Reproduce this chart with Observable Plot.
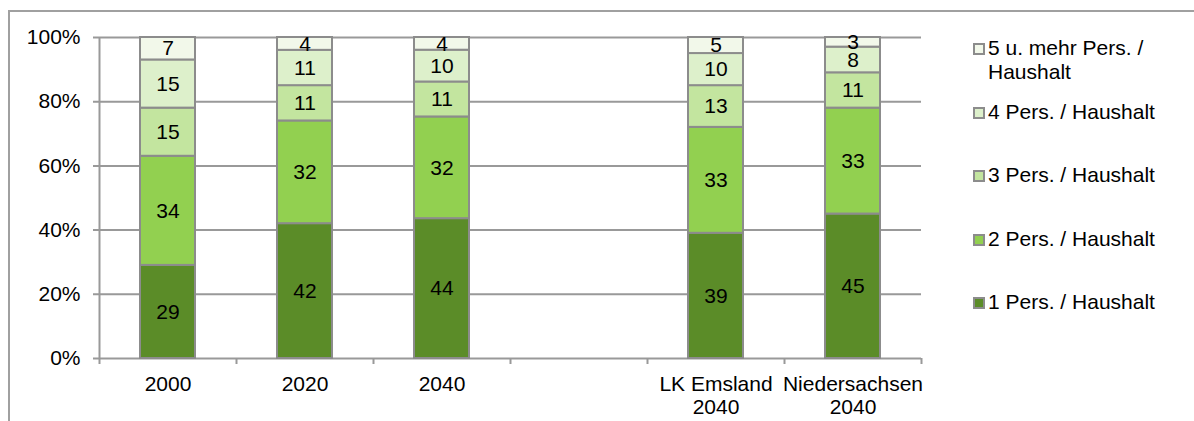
<!DOCTYPE html>
<html>
<head>
<meta charset="utf-8">
<script src="https://cdn.jsdelivr.net/npm/d3@7"></script>
<script src="https://cdn.jsdelivr.net/npm/@observablehq/plot@0.6"></script>
<style>
  html, body { margin: 0; padding: 0; background: #fff; }
  #wrap { position: relative; width: 1194px; height: 421px; overflow: hidden; font-family: "Liberation Sans", Arial, sans-serif; }
  #frame { position: absolute; left: 8px; top: 10px; right: -10px; bottom: -10px; border-top: 2px solid #a0a0a0; border-left: 2px solid #a0a0a0; }
  #chart { position: absolute; left: 0; top: 0; }
  .leg { position: absolute; left: 973px; font-size: 21px; line-height: 24px; color: #000; }
  .leg .sw { position: absolute; left: 0; top: 7px; width: 8px; height: 8px; border: 2px solid #8c8c8c; }
  .leg .tx { margin-left: 15px; white-space: nowrap; }
</style>
</head>
<body>
<div id="wrap">
  <div id="frame"></div>
  <div id="chart"></div>
  <div id="legend"></div>
</div>
<script>
// Categories (x axis)
const categories = ["2000", "2020", "2040", " ", "LK Emsland\n2040", "Niedersachsen\n2040"];
// Series names (bottom to top)
const series = ["1 Pers. / Haushalt", "2 Pers. / Haushalt", "3 Pers. / Haushalt", "4 Pers. / Haushalt", "5 u. mehr Pers. / Haushalt"];
// Values per series, aligned with categories (null = empty slot)
const pers1 = [29, 42, 44, null, 39, 45];
const pers2 = [34, 32, 32, null, 33, 33];
const pers3 = [15, 11, 11, null, 13, 11];
const pers4 = [15, 11, 10, null, 10, 8];
const pers5 = [7, 4, 4, null, 5, 3];
const colors = ["#5b8c28", "#92d050", "#c3e59f", "#ddf0cb", "#f2f8ea"];
const yTicks = [0, 0.2, 0.4, 0.6, 0.8, 1];

const seriesValues = [pers1, pers2, pers3, pers4, pers5];
const data = [];
seriesValues.forEach((vals, si) => {
  vals.forEach((v, ci) => {
    if (v != null) data.push({cat: categories[ci], series: series[si], value: v});
  });
});

const W = 1194, H = 421, mL = 99, mR = 273, mT = 37, mB = 63;
const step = (W - mL - mR) / categories.length;
const gray = "#999999";
const fs = 21;

const chart = Plot.plot({
  width: W,
  height: H,
  marginLeft: mL,
  marginRight: mR,
  marginTop: mT,
  marginBottom: mB,
  style: {fontFamily: "'Liberation Sans', Arial, sans-serif", fontSize: fs + "px", background: "transparent", color: "#000"},
  x: {type: "band", domain: categories, paddingInner: 0.6, paddingOuter: 0.3, label: null},
  y: {domain: [0, 1], label: null},
  color: {domain: series, range: colors},
  marks: [
    Plot.ruleY(yTicks, {stroke: gray, strokeWidth: 2, insetLeft: -6}),
    Plot.ruleX([categories[0]], {x: d => d, dx: -step / 2, y1: 0, y2: 1, stroke: gray, strokeWidth: 2}),
    Plot.ruleX(categories, {x: d => d, dx: -step / 2, y1: 0, y2: 0, insetTop: 6, stroke: gray, strokeWidth: 2}),
    Plot.ruleX([categories[categories.length - 1]], {x: d => d, dx: step / 2, y1: 0, y2: 0, insetTop: 6, stroke: gray, strokeWidth: 2}),
    Plot.barY(data, Plot.stackY({offset: "normalize", x: "cat", y: "value", z: "series", fill: "series", stroke: "#8c8c8c", strokeWidth: 2})),
    Plot.text(data, Plot.stackY({offset: "normalize", x: "cat", y: "value", z: "series", text: d => String(d.value), fontSize: fs, fill: "#000"})),
    Plot.axisY({ticks: yTicks, tickFormat: d3.format(".0%"), tickSize: 0, tickPadding: 19, fontSize: fs, label: null}),
    Plot.axisX({tickSize: 0, tickPadding: 16, fontSize: fs, lineHeight: 1.1, label: null})
  ]
});
document.getElementById("chart").appendChild(chart);

// Legend (top entry = top of stack)
const legend = document.getElementById("legend");
const legendOrder = [4, 3, 2, 1, 0];
const legendLines = [["5 u. mehr Pers. /", "Haushalt"], ["4 Pers. / Haushalt"], ["3 Pers. / Haushalt"], ["2 Pers. / Haushalt"], ["1 Pers. / Haushalt"]];
legendOrder.forEach((si, i) => {
  const item = document.createElement("div");
  item.className = "leg";
  item.style.top = (48 - 12 + i * 63.5) + "px";
  const sw = document.createElement("div");
  sw.className = "sw";
  sw.style.background = colors[si];
  const tx = document.createElement("div");
  tx.className = "tx";
  tx.innerHTML = legendLines[i].join("<br>");
  item.appendChild(sw);
  item.appendChild(tx);
  legend.appendChild(item);
});
</script>
</body>
</html>
